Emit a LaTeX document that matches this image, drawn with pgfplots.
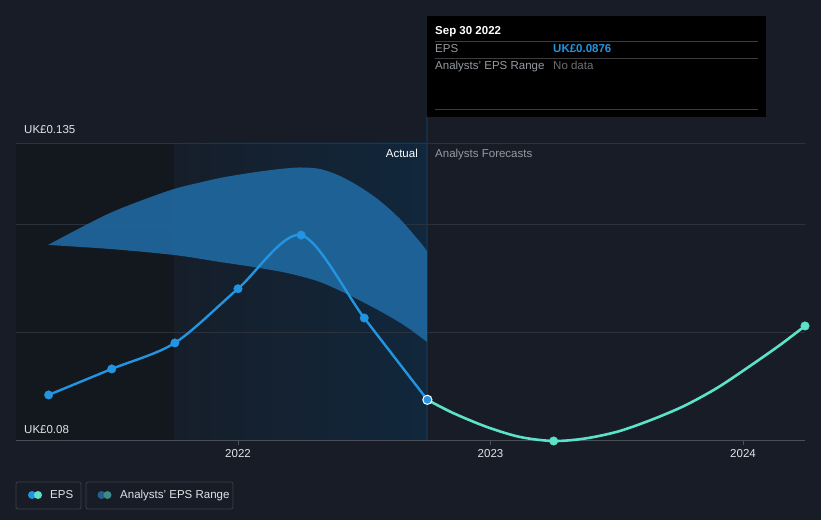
\documentclass[border=0pt]{standalone}
\usepackage{pgfplots}
\pgfplotsset{compat=1.18}
\usepgfplotslibrary{fillbetween}
\usepackage{fontspec}
\setmainfont{Liberation Sans}
\definecolor{bg}{RGB}{23,28,38}
\definecolor{leftbg}{RGB}{19,23,30}
\definecolor{pastA}{RGB}{22,30,42}
\definecolor{pastB}{RGB}{17,39,60}
\definecolor{vline}{RGB}{26,54,82}
\definecolor{gridcol}{RGB}{44,50,59}
\definecolor{axcol}{RGB}{75,80,88}
\definecolor{tickcol}{RGB}{225,227,230}
\definecolor{epsblue}{RGB}{35,148,223}
\definecolor{teal}{RGB}{92,226,200}
\definecolor{band}{RGB}{31,103,158}
\definecolor{greytext}{RGB}{150,154,160}
\definecolor{nodata}{RGB}{110,112,116}
\definecolor{sepcol}{RGB}{60,60,62}
\definecolor{legborder}{RGB}{58,63,71}
\definecolor{legdark1}{RGB}{36,96,143}
\definecolor{legdark2}{RGB}{61,139,132}
\begin{document}
\begin{tikzpicture}
\begin{axis}[at={(16pt,79pt)}, anchor=south west, scale only axis,
  set layers,
  width=789pt, height=298pt,
  xmin=2021.1208, xmax=2024.2455, ymin=0.08, ymax=0.135,
  clip=false,
  axis line style={draw=none},
  ytick={0.1,0.12,0.135}, yticklabels={}, ymajorgrids,
  grid style={gridcol, line width=0.8pt},
  ytick style={draw=none},
  xtick={2022,2023,2024}, xticklabels={2022,2023,2024},
  xtick style={draw=axcol, line width=0.8pt},
  tick align=outside, major tick length=4pt, xtick pos=bottom, ytick pos=left,
  xticklabel style={font=\fontsize{11.5}{13}\selectfont, text=tickcol, yshift=-1pt},
]
\begin{pgfonlayer}{axis background}
\fill[bg] (rel axis cs:-0.020279,-0.265101) rectangle (rel axis cs:1.020279,1.479866);
\fill[leftbg] (axis cs:2021.1208,0.08) rectangle (axis cs:2021.7465,0.135);
\shade[left color=pastA, right color=pastB] (axis cs:2021.7465,0.08) rectangle (axis cs:2022.7485,0.135);
\draw[vline, line width=1.3pt] (axis cs:2022.7485,0.08) -- (rel axis cs:0.520913,1.0906);
\end{pgfonlayer}
\draw[axcol, line width=1pt] (rel axis cs:0,0) -- (rel axis cs:1,0);
\addplot[name path=upper, draw=none, smooth] coordinates {
(2021.2475,0.11618) (2021.3743,0.11931) (2021.4931,0.12208) (2021.6119,0.12430)
(2021.7465,0.12651) (2021.8495,0.12771) (2021.9287,0.12854) (2022.0079,0.12919)
(2022.0871,0.12974) (2022.1663,0.13020) (2022.2455,0.13048) (2022.3248,0.13020)
(2022.4040,0.12891) (2022.4832,0.12688) (2022.5624,0.12430) (2022.6416,0.12097)
(2022.7208,0.11673) (2022.7485,0.11507)
};
\addplot[name path=lower, draw=none, smooth] coordinates {
(2021.2475,0.11618) (2021.4931,0.11544) (2021.7465,0.11433) (2021.9287,0.11304)
(2022.0594,0.11212) (2022.1941,0.11101) (2022.3248,0.10935) (2022.4554,0.10658)
(2022.5901,0.10326) (2022.6693,0.1010) (2022.7485,0.09827)
};
\addplot[fill=band, fill opacity=0.92, draw=none] fill between[of=upper and lower];
\addplot[teal, line width=2.6pt, smooth, mark=*, mark indices={5,13}, mark size=4.3pt, mark options={solid, fill=teal, draw=teal, line width=0.3pt}] coordinates {
(2022.75,0.0876) (2022.8515,0.08517) (2022.9861,0.08258) (2023.1168,0.08074) (2023.25,0.0800)
(2023.3743,0.08046) (2023.5050,0.08175) (2023.6356,0.08388) (2023.7663,0.08646)
(2023.8970,0.08978) (2024.0277,0.09384) (2024.1465,0.09772) (2024.2455,0.10123)
};
\addplot[epsblue, line width=2.4pt, smooth, mark=*, mark size=4.3pt, mark options={solid, fill=epsblue, draw=epsblue, line width=0.3pt}] coordinates {
(2021.25,0.0885) (2021.5,0.0933) (2021.75,0.0981) (2022.0,0.1081) (2022.25,0.1180) (2022.5,0.1027) (2022.75,0.0876)
};
\addplot[draw=none, mark=*, mark size=4.6pt, mark options={solid, fill=epsblue, draw=white, line width=1pt}] coordinates {(2022.75,0.0876)};
\end{axis}
\begin{scope}[x=1pt,y=1pt]
% tooltip
\fill[black] (427,403) rectangle (766,504);
\draw[sepcol, line width=0.8pt] (435,479) -- (758,479);
\draw[sepcol, line width=0.8pt] (435,462) -- (758,462);
\draw[sepcol, line width=0.8pt] (435,411) -- (758,411);
\node[anchor=base west, inner sep=0, text=white, font=\fontsize{11.5}{13}\selectfont\bfseries] at (435,485) {Sep 30 2022};
\node[anchor=base west, inner sep=0, text=greytext, font=\fontsize{11.5}{13}\selectfont] at (435,467) {EPS};
\node[anchor=base west, inner sep=0, text=epsblue, font=\fontsize{11.5}{13}\selectfont\bfseries] at (553,467) {UK£0.0876};
\node[anchor=base west, inner sep=0, text=greytext, font=\fontsize{11.5}{13}\selectfont] at (435,450) {Analysts' EPS Range};
\node[anchor=base west, inner sep=0, text=nodata, font=\fontsize{11.5}{13}\selectfont] at (553,450) {No data};
% labels
\node[anchor=base west, inner sep=0, text=tickcol, font=\fontsize{11.5}{13}\selectfont] at (24,386) {UK£0.135};
\node[anchor=base west, inner sep=0, text=tickcol, font=\fontsize{11.5}{13}\selectfont] at (24,86) {UK£0.08};
\node[anchor=base east, inner sep=0, text=white, font=\fontsize{11.5}{13}\selectfont] at (418,362) {Actual};
\node[anchor=base west, inner sep=0, text=greytext, font=\fontsize{11.5}{13}\selectfont] at (435,362) {Analysts Forecasts};
% legend
\draw[legborder, line width=0.8pt, rounded corners=2pt] (16,11) rectangle (81,38);
\draw[legborder, line width=0.8pt, rounded corners=2pt] (86,11) rectangle (233,38);
\fill[epsblue] (32,25) circle (4);
\fill[teal] (38,25) circle (4);
\fill[legdark1] (101.5,25) circle (4);
\fill[legdark2] (107.5,25) circle (4);
\node[anchor=base west, inner sep=0, text=tickcol, font=\fontsize{11.5}{13}\selectfont] at (50,21) {EPS};
\node[anchor=base west, inner sep=0, text=tickcol, font=\fontsize{11.5}{13}\selectfont] at (120,21) {Analysts' EPS Range};
\end{scope}
\end{tikzpicture}
\end{document}
